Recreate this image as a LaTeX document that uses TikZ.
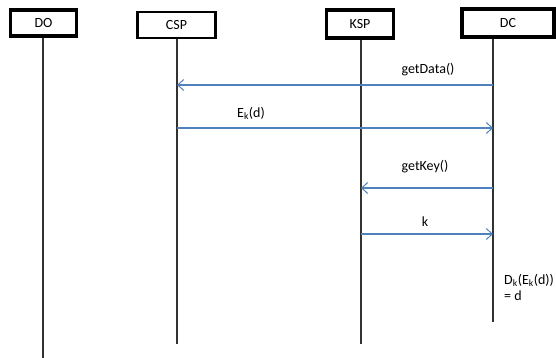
\documentclass[tikz,border=0pt]{standalone}
\usepackage{fontspec}
\setmainfont{Carlito}
\usetikzlibrary{arrows.meta}
\definecolor{msgblue}{RGB}{79,129,189}
\definecolor{lifegray}{RGB}{50,50,50}
\tikzset{
  actor/.style={draw=black, line width=3.2pt, fill=white, inner sep=0pt, font=\fontsize{14}{16}\selectfont},
  lifeline/.style={draw=lifegray, line width=1.1pt},
  msg/.style={draw=msgblue, line width=1.1pt, -{Straight Barb[length=6pt,width=11pt,line width=1pt]}},
  lbl/.style={font=\fontsize{14}{16}\selectfont, inner sep=0pt}
}
\begin{document}
\begin{tikzpicture}[x=1pt,y=-1pt]
\useasboundingbox (0,0) rectangle (556,358);
% actors
\node[actor, minimum width=66pt, minimum height=26pt] (DO) at (43.5,23) {DO};
\node[actor, line width=2.4pt, minimum width=78pt, minimum height=26pt] (CSP) at (176.5,25) {CSP};
\node[actor, minimum width=67pt, minimum height=28pt] (KSP) at (360,24) {KSP};
\node[actor, minimum width=92pt, minimum height=28pt] (DC) at (508,23) {DC};
% lifeline ends
\coordinate (DOend) at (43,358);
\coordinate (CSPend) at (177,344);
\coordinate (KSPend) at (361,344);
\coordinate (DCend) at (493,322);
\draw[lifeline] (DO.south -| DOend) -- (DOend);
\draw[lifeline] (CSP.south -| CSPend) -- (CSPend);
\draw[lifeline] (KSP.south -| KSPend) -- (KSPend);
\draw[lifeline] (DC.south -| DCend) -- (DCend);
% message anchors
\coordinate (m1s) at (493,85);  \coordinate (m1e) at (177,85);
\coordinate (m2s) at (177,128); \coordinate (m2e) at (493,128);
\coordinate (m3s) at (493,188); \coordinate (m3e) at (361,188);
\coordinate (m4s) at (361,234); \coordinate (m4e) at (493,234);
\draw[msg] (m1s) -- (m1e);
\draw[msg] (m2s) -- (m2e);
\draw[msg] (m3s) -- (m3e);
\draw[msg] (m4s) -- (m4e);
% labels
\node[lbl] (l1) at (428,70) {getData()};
\node[lbl] (l2) at (251,113) {E\textsubscript{k}(d)};
\node[lbl] (l3) at (425,167) {getKey()};
\node[lbl] (l4) at (425,222) {k};
\node[lbl, anchor=north west, align=left] (l5) at (504,274) {D\textsubscript{k}(E\textsubscript{k}(d))\\= d};
\end{tikzpicture}
\end{document}
